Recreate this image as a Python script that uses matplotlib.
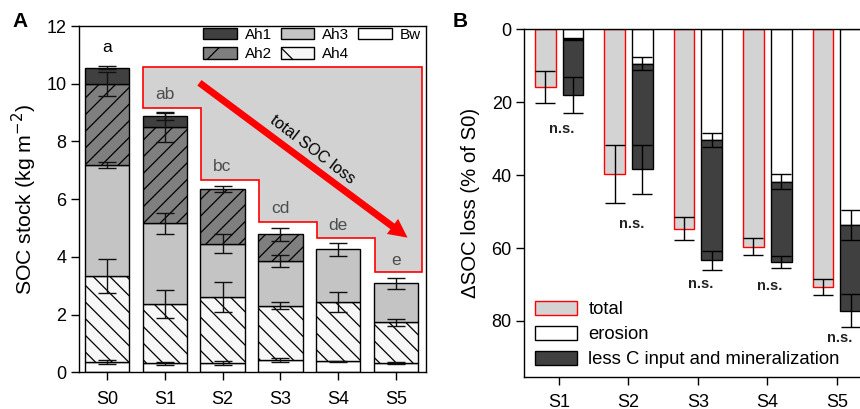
import numpy as np
import matplotlib
matplotlib.use("Agg")
import matplotlib.pyplot as plt
from matplotlib.patches import Polygon, FancyArrowPatch, Patch

plt.rcParams['font.family'] = ['Liberation Sans', 'DejaVu Sans']
plt.rcParams['hatch.linewidth'] = 0.9

# ---------------- Panel A data ----------------
cats_a = ['S0', 'S1', 'S2', 'S3', 'S4', 'S5']
bw = [0.37, 0.31, 0.33, 0.43, 0.38, 0.33]
ah4 = [2.98, 2.05, 2.28, 1.88, 2.07, 1.40]
ah3 = [3.83, 2.80, 1.85, 1.55, 1.81, 1.35]
ah2 = [2.81, 3.33, 1.89, 0.92, 0.0, 0.0]
ah1 = [0.57, 0.38, 0.0, 0.0, 0.0, 0.0]
bw_err = [0.07, 0.05, 0.07, 0.07, 0.02, 0.04]
ah4_err = [0.59, 0.49, 0.52, 0.13, 0.35, 0.13]
ah3_err = [0.10, 0.36, 0.33, 0.20, 0.23, 0.20]
ah2_err = [0.40, 0.50, 0.10, 0.22, np.nan, np.nan]
ah1_err = [0.05, 0.14, np.nan, np.nan, np.nan, np.nan]
letters = ['a', 'ab', 'bc', 'cd', 'de', 'e']
letter_y = [11.25, 9.64, 7.13, 5.68, 5.10, 3.89]
loss_levels = [9.17, 6.66, 5.22, 4.67, 3.49]   # staircase of the shaded "loss" area (S1..S5)
loss_top = 10.59

# ---------------- Panel B data ----------------
cats_b = ['S1', 'S2', 'S3', 'S4', 'S5']
total = [15.8, 39.7, 54.7, 59.6, 70.7]
total_err = [4.4, 7.95, 3.15, 2.4, 2.3]
erosion = [2.65, 9.5, 30.3, 41.8, 53.7]
erosion_err = [0.2, 1.8, 1.9, 2.1, 4.2]
less_c = [15.35, 28.9, 33.0, 22.1, 23.5]
less_c_err = [4.9, 6.7, 2.6, 1.7, 4.6]
ns_y = [27.4, 53.4, 69.9, 70.4, 84.7]

fig = plt.figure(figsize=(8.6, 4.09), dpi=100)

# ================= Panel A =================
axA = fig.add_axes([0.0919, 0.0897, 0.4034, 0.8467])
x = np.arange(len(cats_a))
w = 0.77
layers = [
    (bw, bw_err, 'white', None, 'Bw'),
    (ah4, ah4_err, '#f7f7f7', '\\\\', 'Ah4'),
    (ah3, ah3_err, '#c4c4c4', None, 'Ah3'),
    (ah2, ah2_err, '#7f7f7f', '//', 'Ah2'),
    (ah1, ah1_err, '#404040', None, 'Ah1'),
]
bottom = np.zeros(len(cats_a))
handles = {}
for vals, errs, fc, hatch, lab in layers:
    vals = np.array(vals)
    m = vals > 0
    axA.bar(x[m], vals[m], w, bottom=bottom[m], color=fc, edgecolor='black',
            linewidth=1.0, hatch=hatch, zorder=2)
    handles[lab] = Patch(facecolor=fc, edgecolor='black',
                         hatch=(hatch[0] if hatch else None), linewidth=1.0)
    bottom = bottom + vals
    errs = np.array(errs)
    me = ~np.isnan(errs)
    axA.errorbar(x[me], bottom[me], yerr=errs[me], fmt='none', ecolor='#111111',
                 elinewidth=1.0, capsize=6.5, capthick=1.0, zorder=4)

# shaded staircase area of total loss
poly_pts = [(1 - 0.37, loss_top)]
for i, lv in enumerate(loss_levels):
    xi = i + 1 - 0.37
    poly_pts.append((xi, lv))
    xn = (i + 2 - 0.37) if i < len(loss_levels) - 1 else 5.45
    poly_pts.append((xn, lv))
poly_pts.append((5.45, loss_top))
axA.add_patch(Polygon(poly_pts, closed=True, facecolor='#d2d2d2', edgecolor='red',
                      linewidth=1.2, zorder=1))

for i, (t, ty) in enumerate(zip(letters, letter_y)):
    axA.text(x[i], ty, t, ha='center', va='center', fontsize=12.5,
             color='black' if i == 0 else '#4d4d4d', zorder=5)

arrow = FancyArrowPatch((1.56, 10.09), (5.24, 4.61),
                        arrowstyle='simple,head_width=1.35,head_length=1.35,tail_width=0.5',
                        mutation_scale=10, color='red', linewidth=0, zorder=5)
axA.add_patch(arrow)
axA.text(3.56, 7.72, 'total SOC loss', rotation=-37.5, rotation_mode='anchor',
         ha='center', va='center', fontsize=11.5, color='black', zorder=5)

axA.set_xlim(-0.485, 5.52)
axA.set_ylim(0, 12)
axA.set_xticks(x)
axA.set_xticklabels(cats_a)
axA.set_yticks(np.arange(0, 13, 2))
axA.tick_params(direction='out', length=5.5, width=1.0, labelsize=13)
axA.tick_params(axis='x', pad=8)
axA.set_ylabel('SOC stock (kg m$^{-2}$)', fontsize=15.3, labelpad=5)
for s in axA.spines.values():
    s.set_linewidth(1.0)

legA = axA.legend([handles['Ah1'], handles['Ah2'], handles['Ah3'], handles['Ah4'], handles['Bw']],
                  ['Ah1', 'Ah2', 'Ah3', 'Ah4', 'Bw'], ncol=3, loc='upper right',
                  bbox_to_anchor=(0.985, 0.995), frameon=False, fontsize=11,
                  handlelength=2.2, handleheight=0.8, handletextpad=0.5,
                  columnspacing=0.6, labelspacing=0.35, borderpad=0, borderaxespad=0)
legA.set_zorder(6)

fig.text(0.023, 0.948, 'A', fontsize=15, fontweight='bold', ha='center', va='center')

# ================= Panel B =================
axB = fig.add_axes([0.6097, 0.079, 0.4037, 0.8494])
xb = np.arange(1, len(cats_b) + 1)
bw_b = 0.3
off = 0.2
axB.bar(xb - off, total, bw_b, color='#d3d3d3', edgecolor='red', linewidth=1.0, zorder=2)
axB.errorbar(xb - off, total, yerr=total_err, fmt='none', ecolor='black',
             elinewidth=1.0, capsize=7, capthick=1.0, zorder=4)
axB.bar(xb + off, erosion, bw_b, color='white', edgecolor='black', linewidth=1.0, zorder=2)
axB.bar(xb + off, less_c, bw_b, bottom=erosion, color='#404040', edgecolor='black',
        linewidth=1.0, zorder=2)
axB.errorbar(xb + off, erosion, yerr=erosion_err, fmt='none', ecolor='black',
             elinewidth=1.0, capsize=7, capthick=1.0, zorder=4)
cum = np.array(erosion) + np.array(less_c)
axB.errorbar(xb + off, cum, yerr=less_c_err, fmt='none', ecolor='black',
             elinewidth=1.0, capsize=7, capthick=1.0, zorder=4)
for xi, ny in zip(xb, ns_y):
    axB.text(xi + 0.04, ny, 'n.s.', ha='center', va='center', fontsize=10.5,
             fontweight='bold', color='#222222')

axB.set_xlim(0.5, 5.5)
axB.set_ylim(95.3, 0)
axB.set_xticks(xb)
axB.set_xticklabels(cats_b)
axB.set_yticks([0, 20, 40, 60, 80])
axB.tick_params(direction='out', length=5.5, width=1.0, labelsize=13)
axB.tick_params(axis='x', pad=7)
axB.set_ylabel('\u0394SOC loss (% of S0)', fontsize=14.7, labelpad=8)
for s in axB.spines.values():
    s.set_linewidth(1.0)

hB = [Patch(facecolor='#d3d3d3', edgecolor='red', linewidth=1.0),
      Patch(facecolor='white', edgecolor='black', linewidth=1.0),
      Patch(facecolor='#404040', edgecolor='black', linewidth=1.0)]
axB.legend(hB, ['total', 'erosion', 'less C input and mineralization'], loc='lower left',
           bbox_to_anchor=(0.03, 0.024), frameon=False, fontsize=13.3,
           handlelength=2.3, handleheight=0.75, handletextpad=0.6,
           labelspacing=0.42, borderpad=0, borderaxespad=0)

fig.text(0.535, 0.948, 'B', fontsize=15, fontweight='bold', ha='center', va='center')

fig.savefig('out.png', dpi=100)
